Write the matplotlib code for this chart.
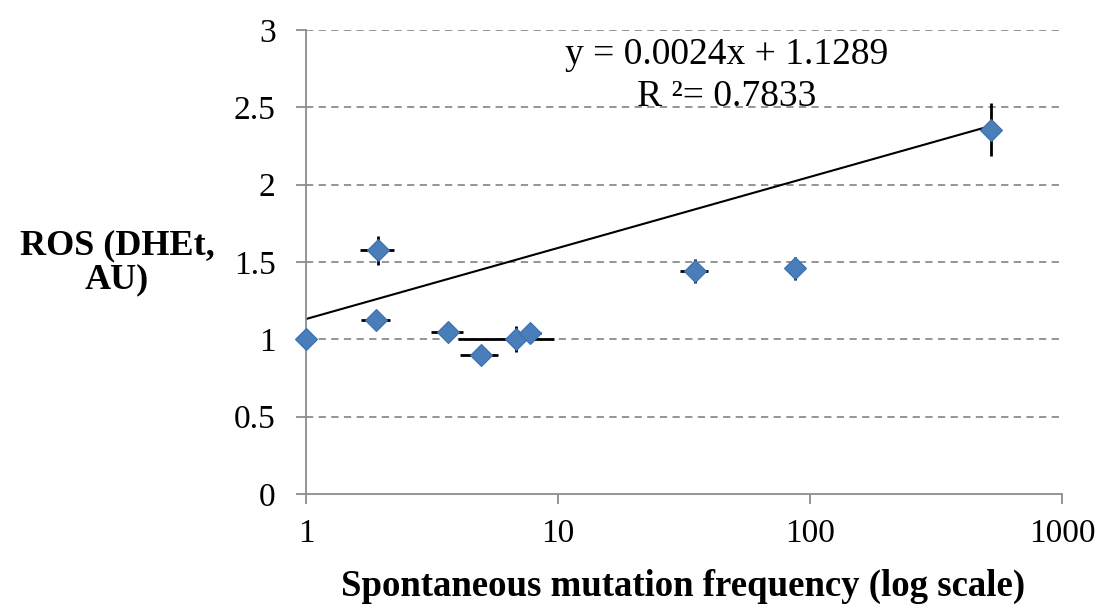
import numpy as np
import matplotlib
matplotlib.use('Agg')
import matplotlib.pyplot as plt

# Data
mutFreq = [1.0, 1.93, 1.9, 3.66, 4.95, 6.8, 7.74, 35.0, 87.0, 521.0]
mutErr  = [0.0, 0.3, 0.25, 0.53, 0.85, 2.8, 0.8, 4.5, 0.0, 0.0]
rosVal  = [1.0, 1.575, 1.125, 1.047, 0.899, 1.0, 1.04, 1.44, 1.46, 2.355]
rosErr  = [0.0, 0.095, 0.0, 0.0, 0.0, 0.085, 0.0, 0.078, 0.075, 0.17]

# Trendline (Excel linear fit)
slope, intercept = 0.0024, 1.1289
trendX = [1.0, 521.0]

yTicks = [0, 0.5, 1, 1.5, 2, 2.5, 3]
yTickLabels = ['0', '0.5', '1', '1.5', '2', '2.5', '3']
xTicks = [1, 10, 100, 1000]
xTickLabels = ['1', '10', '100', '1000']

plt.rcParams['font.family'] = ['Liberation Serif', 'DejaVu Serif']

fig = plt.figure(figsize=(11.05, 6.11), dpi=100)
ax = fig.add_axes([0.277, 0.1915, 0.684, 0.7595])

ax.set_xscale('log')
ax.set_xlim(1, 1000)
ax.set_ylim(0, 3)

for y in yTicks[1:]:
	ax.axhline(y, color='#8c8c8c', lw=1.3, ls=(0, (4, 3)), zorder=1)

trendY = [slope * x + intercept for x in trendX]
ax.plot(trendX, trendY, color='black', lw=1.5, zorder=2)

ax.errorbar(mutFreq, rosVal, xerr=mutErr, yerr=rosErr, fmt='none',
			ecolor='black', elinewidth=2, capsize=0, zorder=3)
ax.plot(mutFreq, rosVal, ls='none', marker='D', ms=11, color='#4a7ebb',
		mec='#3c6fae', mew=0.8, zorder=4, clip_on=False)

ax.set_yticks(yTicks)
ax.set_yticklabels(yTickLabels)
ax.set_xticks(xTicks)
ax.set_xticklabels(xTickLabels)
ax.xaxis.set_minor_locator(matplotlib.ticker.NullLocator())
ax.tick_params(axis='both', labelsize=24, color='#8c8c8c', length=7, width=1.3, direction='out')
ax.tick_params(axis='y', pad=15)
ax.tick_params(axis='x', pad=11)

for side in ['top', 'right']:
	ax.spines[side].set_visible(False)
for side in ['left', 'bottom']:
	ax.spines[side].set_color('#8c8c8c')
	ax.spines[side].set_linewidth(1.3)

# Trendline label
ax.text(46.9, 2.838, 'y = 0.0024x + 1.1289', ha='center', va='center', fontsize=27)
ax.text(46.9, 2.565, 'R ²= 0.7833', ha='center', va='center', fontsize=27)

fig.text(117 / 1105, 1 - 263 / 611, 'ROS (DHEt,\nAU)', ha='center', va='center',
		 fontsize=26, fontweight='bold', linespacing=1.05)
fig.text(683 / 1105, 1 - 586 / 611, 'Spontaneous mutation frequency (log scale)',
		 ha='center', va='center', fontsize=26.5, fontweight='bold')

fig.savefig('out.png', dpi=100)
